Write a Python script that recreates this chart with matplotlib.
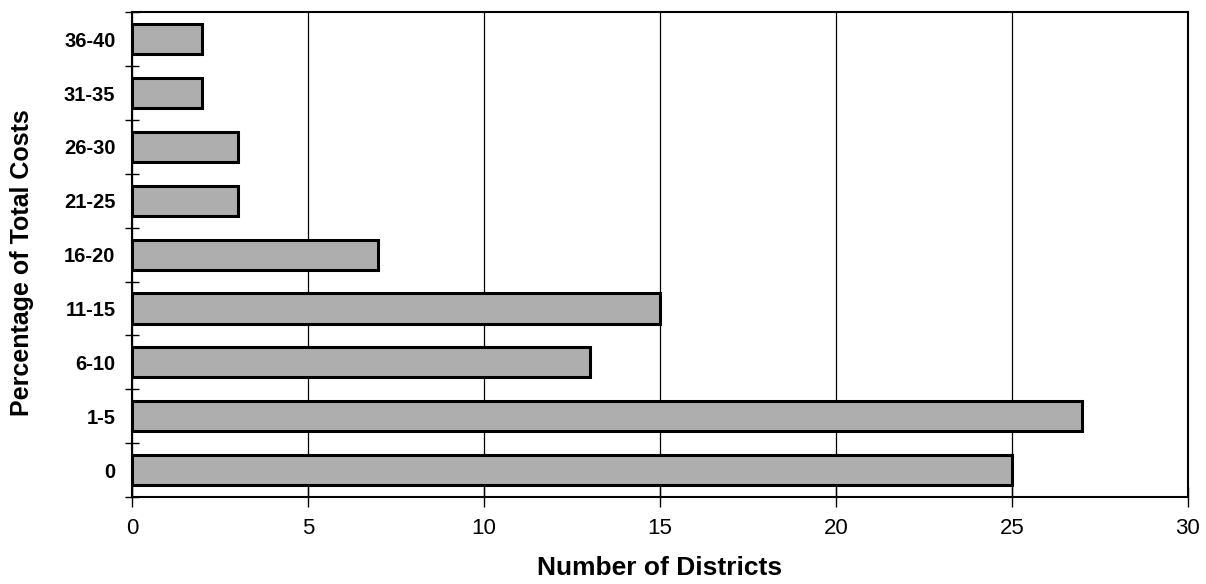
import numpy as np
import matplotlib.pyplot as plt

categories = ['0', '1-5', '6-10', '11-15', '16-20', '21-25', '26-30', '31-35', '36-40']
districts = [25, 27, 13, 15, 7, 3, 3, 2, 2]

plt.rcParams['font.family'] = 'Liberation Sans'

fig = plt.figure(figsize=(12.06, 5.84), dpi=100)
ax = fig.add_axes([0.1095, 0.149, 0.8755, 0.830])

y = np.arange(len(categories))
ax.barh(y, districts, height=0.56, color='#aeaeae', edgecolor='black', linewidth=2.2, zorder=3)

ax.set_xlim(0, 30)
ax.set_ylim(-0.5, len(categories) - 0.5)
ax.set_xticks(np.arange(0, 31, 5))
ax.xaxis.grid(True, color='black', linewidth=0.9, zorder=0)
ax.tick_params(axis='x', direction='inout', length=14, width=1, labelsize=16, pad=8)

# labels at bar centres, tick marks between categories
ax.set_yticks(np.arange(-0.5, len(categories), 1))
ax.set_yticklabels([])
ax.set_yticks(y, minor=True)
ax.set_yticklabels(categories, minor=True, fontweight='bold', fontsize=14.5)
ax.tick_params(axis='y', which='major', direction='inout', length=10, width=1)
ax.tick_params(axis='y', which='minor', length=0, pad=12)

for s in ax.spines.values():
    s.set_linewidth(1.5)

ax.set_xlabel('Number of Districts', fontweight='bold', fontsize=19)
ax.xaxis.label.set_va('center')
ax.xaxis.set_label_coords(0.5, -0.146)
ax.set_ylabel('Percentage of Total Costs', fontweight='bold', fontsize=18)
ax.yaxis.label.set_va('center')
ax.yaxis.set_label_coords(-0.104, 0.484)

fig.savefig('out.png', dpi=100)
